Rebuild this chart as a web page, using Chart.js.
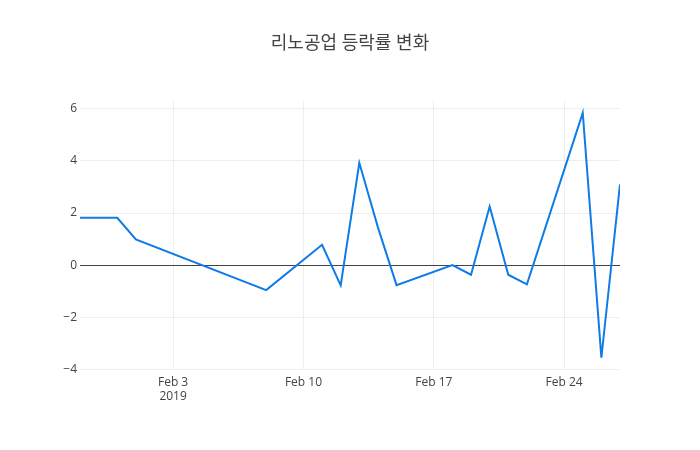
<!DOCTYPE html>
<html>
<head>
<meta charset="utf-8">
<script src="https://cdn.jsdelivr.net/npm/chart.js@4"></script>
<style>
  body { margin: 0; background: #fff; }
</style>
</head>
<body>
<canvas id="chart" width="700" height="450"></canvas>
<script>
// trading days and daily change (%)
const dates = ['2019-01-29', '2019-01-31', '2019-02-01', '2019-02-08', '2019-02-11',
    '2019-02-12', '2019-02-13', '2019-02-14', '2019-02-15', '2019-02-18', '2019-02-19',
    '2019-02-20', '2019-02-21', '2019-02-22', '2019-02-25', '2019-02-26', '2019-02-27'];
const changes = [1.82, 1.82, 0.99, -0.96, 0.78, -0.78, 3.93, 1.45, -0.77, 0.0, -0.37,
    2.25, -0.37, -0.74, 5.85, -3.56, 3.10];

// axis ticks
const tickDates = ['2019-02-03', '2019-02-10', '2019-02-17', '2019-02-24'];
const tickLabels = [['Feb 3', '2019'], 'Feb 10', 'Feb 17', 'Feb 24'];
const yTicks = [-4, -2, 0, 2, 4, 6];

// days since the first date
function dayOf(s) {
    return (Date.parse(s) - Date.parse(dates[0])) / 86400000;
}

const points = dates.map((d, i) => ({ x: dayOf(d), y: changes[i] }));
const fontFamily = "'Open Sans', 'Noto Sans CJK KR', sans-serif";

new Chart(document.getElementById('chart').getContext('2d'), {
    type: 'line',
    data: {
        datasets: [{
            data: points,
            borderColor: '#0f7be6',
            borderWidth: 2,
            pointRadius: 0,
            tension: 0,
            fill: false
        }]
    },
    options: {
        responsive: false,
        animation: false,
        layout: { padding: 0 },
        plugins: {
            legend: { display: false },
            tooltip: { enabled: false },
            title: {
                display: true,
                text: '리노공업 등락률 변화',
                color: '#444',
                font: { family: fontFamily, size: 18, weight: 'normal' },
                padding: { top: 33, bottom: 46 }
            }
        },
        scales: {
            x: {
                type: 'linear',
                min: 0,
                max: dayOf(dates[dates.length - 1]),
                afterBuildTicks: scale => {
                    scale.ticks = tickDates.map(d => ({ value: dayOf(d) }));
                },
                afterFit: scale => { scale.height = 80; },
                grid: { color: '#eeeeee', drawTicks: false },
                border: { display: false },
                ticks: {
                    padding: 5,
                    color: '#444',
                    font: { family: fontFamily, size: 12 },
                    maxRotation: 0,
                    callback: (value, index) => tickLabels[index]
                }
            },
            y: {
                min: -4.03,
                max: 6.32,
                afterBuildTicks: scale => {
                    scale.ticks = yTicks.map(v => ({ value: v }));
                },
                afterFit: scale => { scale.width = 80; },
                grid: {
                    color: ctx => (ctx.tick && ctx.tick.value === 0) ? '#444' : '#eeeeee',
                    drawTicks: false
                },
                border: { display: false },
                ticks: {
                    padding: 3,
                    color: '#444',
                    font: { family: fontFamily, size: 12 },
                    callback: value => String(value).replace('-', '\u2212')
                }
            },
            // empty right margin so the title centres over the plot
            yRight: {
                position: 'right',
                min: 0,
                max: 1,
                afterBuildTicks: scale => { scale.ticks = []; },
                afterFit: scale => { scale.width = 80; },
                grid: { display: false },
                border: { display: false },
                ticks: { display: false }
            }
        }
    }
});
</script>
</body>
</html>
